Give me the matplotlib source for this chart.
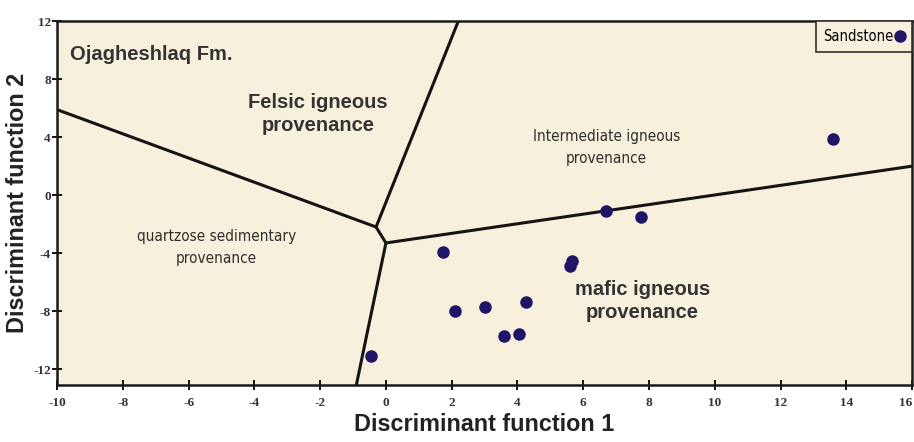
import matplotlib
matplotlib.use("Agg")
import matplotlib.pyplot as plt

# ---- data ----
sample_x = [-0.45, 1.75, 2.1, 3.0, 3.6, 4.05, 4.27, 5.65, 5.6, 6.7, 7.75, 13.6]
sample_y = [-11.1, -3.9, -8.0, -7.7, -9.7, -9.6, -7.35, -4.55, -4.9, -1.1, -1.5, 3.9]

# boundary lines (field boundaries of the discriminant diagram)
b_qs_fel_x = [-10, -0.3]
b_qs_fel_y = [5.9, -2.2]
b_fel_int_x = [-0.3, 2.2]
b_fel_int_y = [-2.2, 12]
b_mid_x = [-0.3, 0.0]
b_mid_y = [-2.2, -3.3]
b_qs_maf_x = [0.0, -0.9]
b_qs_maf_y = [-3.3, -13.1]
b_int_maf_x = [0.0, 16]
b_int_maf_y = [-3.3, 2.0]

xticks = [-10, -8, -6, -4, -2, 0, 2, 4, 6, 8, 10, 12, 14, 16]
yticks = [-12, -8, -4, 0, 4, 8, 12]

fig = plt.figure(figsize=(9.14, 4.42), dpi=100)
ax = fig.add_axes([0.0624, 0.129, 0.9356, 0.823])
ax.set_facecolor("#f7f0dc")

for bx, by in [(b_qs_fel_x, b_qs_fel_y), (b_fel_int_x, b_fel_int_y), (b_mid_x, b_mid_y),
               (b_qs_maf_x, b_qs_maf_y), (b_int_maf_x, b_int_maf_y)]:
    ax.plot(bx, by, color="#141414", lw=2.2, solid_capstyle="round", zorder=2)

ax.plot(sample_x, sample_y, 'o', color="#1f1566", markersize=8, linestyle="none",
        label="Sandstone", zorder=3)

ax.set_xlim(-10, 16)
ax.set_ylim(-13.1, 12)
ax.set_xticks(xticks)
ax.set_yticks(yticks)
ax.set_xticklabels([str(t) for t in xticks])
ax.set_yticklabels([str(t) for t in yticks])
ax.tick_params(direction="inout", length=7, width=1.3, labelsize=9.5)
ax.tick_params(axis="x", pad=5)
ax.tick_params(axis="y", pad=1)
for lab in ax.get_xticklabels() + ax.get_yticklabels():
    lab.set_family(["Liberation Serif", "DejaVu Serif"])
    lab.set_fontweight("bold")
    lab.set_color("#333333")
ax.get_xticklabels()[-1].set_ha("right")
for s in ax.spines.values():
    s.set_linewidth(1.8)
    s.set_color("#1a1a1a")

narrow = ["DejaVu Sans"]
sans = ["Liberation Sans", "DejaVu Sans"]
tc = "#333333"

ax.text(-9.6, 9.7, "Ojagheshlaq Fm.", family=sans, fontweight="bold", fontsize=14.5,
        color=tc, ha="left", va="center")
ax.text(-2.06, 5.6, "Felsic igneous\nprovenance", family=sans, fontweight="bold",
        fontsize=14.5, color=tc, ha="center", va="center", linespacing=1.3)
ax.text(6.7, 3.3, "Intermediate igneous\nprovenance", family=narrow, stretch="condensed",
        fontsize=11, color="#2e2e2e", ha="center", va="center", linespacing=1.6)
ax.text(-5.15, -3.6, "quartzose sedimentary\nprovenance", family=narrow, stretch="condensed",
        fontsize=11, color="#2e2e2e", ha="center", va="center", linespacing=1.6)
ax.text(7.8, -7.3, "mafic igneous\nprovenance", family=sans, fontweight="bold",
        fontsize=14.5, color=tc, ha="center", va="center", linespacing=1.3)

leg = ax.legend(loc="upper right", markerfirst=False, fancybox=False, framealpha=1,
                facecolor="#f7f0dc", edgecolor="#333333", borderaxespad=0,
                handlelength=0.6, handletextpad=0.1, borderpad=0.55,
                prop={"family": narrow, "stretch": "condensed", "size": 10.5})
leg.get_frame().set_linewidth(1.2)

ax.set_xlabel("Discriminant function 1", family=sans, fontweight="bold", fontsize=16.8,
              color="#222222", labelpad=3)
ax.set_ylabel("Discriminant function 2", family=sans, fontweight="bold", fontsize=16.8,
              color="#222222", labelpad=3)

fig.savefig("out.png", dpi=100)
